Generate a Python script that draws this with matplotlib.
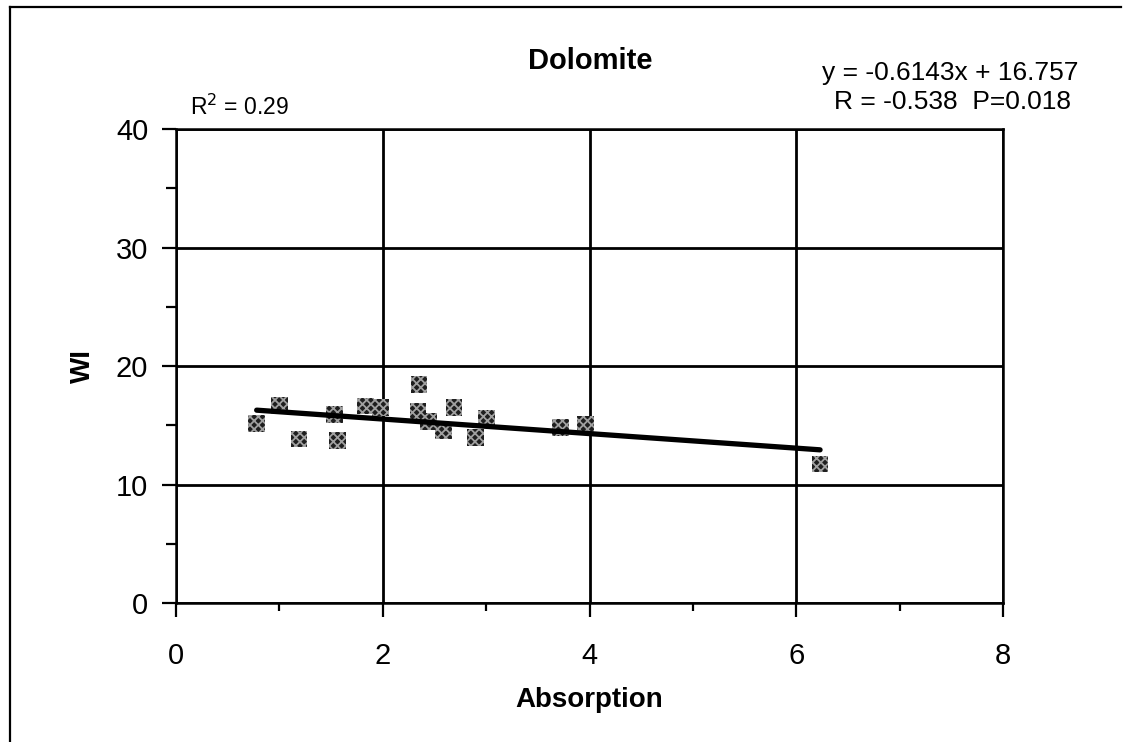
import numpy as np
import matplotlib
matplotlib.use("Agg")
import matplotlib.pyplot as plt
from matplotlib.ticker import MultipleLocator
from matplotlib.lines import Line2D

plt.rcParams["font.family"] = ["Liberation Sans", "DejaVu Sans"]
plt.rcParams["hatch.linewidth"] = 1.3

# Absorption vs WI for dolomite samples
absorption = [0.78, 1.00, 1.19, 1.53, 1.56, 1.83, 1.98, 2.35, 2.34,
              2.44, 2.59, 2.69, 2.90, 3.00, 3.72, 3.96, 6.23]
wi = [15.15, 16.7, 13.84, 15.94, 13.7, 16.64, 16.5, 18.46, 16.16,
      15.32, 14.54, 16.5, 13.97, 15.6, 14.8, 15.1, 11.74]

slope = -0.6143
intercept = 16.757
r_sq = 0.29
r_val = -0.538
p_val = 0.018

fig = plt.figure(figsize=(11.27, 7.42), dpi=100)
ax = fig.add_axes([0.1562, 0.1873, 0.7338, 0.6387])

ax.scatter(absorption, wi, marker="s", s=145, facecolor="#1e1e1e",
           edgecolor="#a0a0a0", hatch="xxxx", linewidths=0, zorder=4)

xs = np.array([min(absorption), max(absorption)])
ax.plot(xs, slope * xs + intercept, color="black", lw=3.8,
        solid_capstyle="round", zorder=5)

ax.set_xlim(0, 8)
ax.set_ylim(0, 40)
ax.xaxis.set_major_locator(MultipleLocator(2))
ax.xaxis.set_minor_locator(MultipleLocator(1))
ax.yaxis.set_major_locator(MultipleLocator(10))
ax.yaxis.set_minor_locator(MultipleLocator(5))
ax.grid(True, which="major", color="black", lw=2.0)
ax.set_axisbelow(True)

for sp in ax.spines.values():
    sp.set_linewidth(1.8)
    sp.set_color("black")

ax.tick_params(axis="x", which="major", direction="out", length=10,
               width=1.6, pad=18, labelsize=21)
ax.tick_params(axis="x", which="minor", direction="out", length=6, width=1.6)
ax.tick_params(axis="y", which="major", direction="out", length=10,
               width=1.6, pad=10, labelsize=21)
ax.tick_params(axis="y", which="minor", direction="out", length=7, width=1.6)

ax.set_xlabel("Absorption", fontsize=20, fontweight="bold", labelpad=12)
ax.set_ylabel("WI", fontsize=20, fontweight="bold", labelpad=14)

fig.text(0.524, 0.918, "Dolomite", ha="center", va="center",
         fontsize=21, fontweight="bold")
fig.text(0.957, 0.902, f"y = {slope}x + {intercept}", ha="right",
         va="center", fontsize=19)
fig.text(0.950, 0.862, f"R = {r_val}  P={p_val:.3f}", ha="right",
         va="center", fontsize=19)
fig.text(0.169, 0.856, f"R$^2$ = {r_sq}", ha="left", va="center",
         fontsize=16.5)

# outer frame (left and top edges of the original box)
fig.add_artist(Line2D([0.0093, 0.0093], [0.0, 0.991], color="black",
                      lw=1.6, transform=fig.transFigure))
fig.add_artist(Line2D([0.0093, 0.995], [0.991, 0.991], color="black",
                      lw=1.6, transform=fig.transFigure))

fig.savefig("out.png", dpi=100)
